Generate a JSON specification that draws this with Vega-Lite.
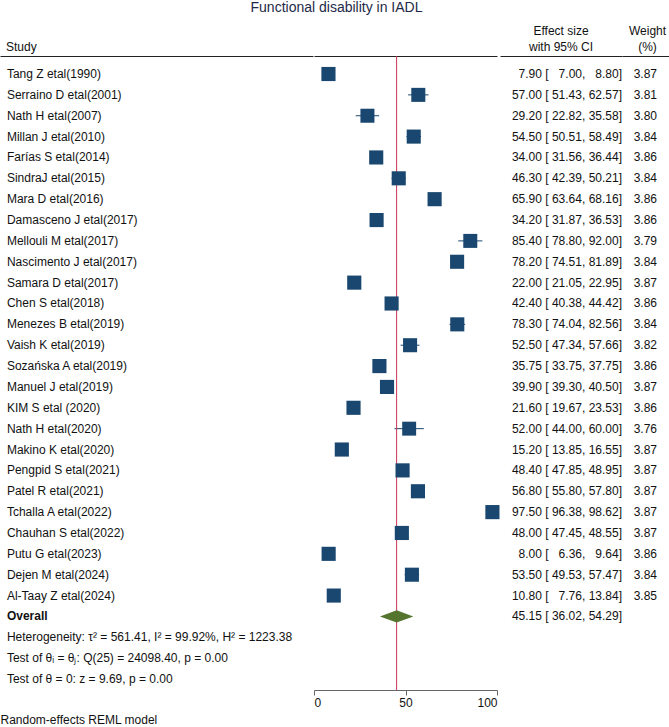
{
  "$schema": "https://vega.github.io/schema/vega-lite/v6.json",
  "padding": {"left": 0, "right": 0, "top": 1, "bottom": 0},
  "title": {"text": "Functional disability in IADL", "fontSize": 14, "fontWeight": "normal", "color": "#1e2a48", "anchor": "middle", "offset": 10, "font": "Liberation Sans"},
  "data": {"values": [
    {"label": "Tang Z etal(1990)", "order": 1, "type": "study", "es": 7.90, "lo": 7.00, "hi": 8.80, "w": 3.87, "wt": "3.87", "ci": "7.90 [\u00a0\u00a0 7.00,\u00a0\u00a0 8.80]"},
    {"label": "Serraino D etal(2001)", "order": 2, "type": "study", "es": 57.00, "lo": 51.43, "hi": 62.57, "w": 3.81, "wt": "3.81", "ci": "57.00 [ 51.43, 62.57]"},
    {"label": "Nath H etal(2007)", "order": 3, "type": "study", "es": 29.20, "lo": 22.82, "hi": 35.58, "w": 3.80, "wt": "3.80", "ci": "29.20 [ 22.82, 35.58]"},
    {"label": "Millan J etal(2010)", "order": 4, "type": "study", "es": 54.50, "lo": 50.51, "hi": 58.49, "w": 3.84, "wt": "3.84", "ci": "54.50 [ 50.51, 58.49]"},
    {"label": "Farías S etal(2014)", "order": 5, "type": "study", "es": 34.00, "lo": 31.56, "hi": 36.44, "w": 3.86, "wt": "3.86", "ci": "34.00 [ 31.56, 36.44]"},
    {"label": "SindraJ etal(2015)", "order": 6, "type": "study", "es": 46.30, "lo": 42.39, "hi": 50.21, "w": 3.84, "wt": "3.84", "ci": "46.30 [ 42.39, 50.21]"},
    {"label": "Mara D etal(2016)", "order": 7, "type": "study", "es": 65.90, "lo": 63.64, "hi": 68.16, "w": 3.86, "wt": "3.86", "ci": "65.90 [ 63.64, 68.16]"},
    {"label": "Damasceno J etal(2017)", "order": 8, "type": "study", "es": 34.20, "lo": 31.87, "hi": 36.53, "w": 3.86, "wt": "3.86", "ci": "34.20 [ 31.87, 36.53]"},
    {"label": "Mellouli M etal(2017)", "order": 9, "type": "study", "es": 85.40, "lo": 78.80, "hi": 92.00, "w": 3.79, "wt": "3.79", "ci": "85.40 [ 78.80, 92.00]"},
    {"label": "Nascimento J etal(2017)", "order": 10, "type": "study", "es": 78.20, "lo": 74.51, "hi": 81.89, "w": 3.84, "wt": "3.84", "ci": "78.20 [ 74.51, 81.89]"},
    {"label": "Samara D etal(2017)", "order": 11, "type": "study", "es": 22.00, "lo": 21.05, "hi": 22.95, "w": 3.87, "wt": "3.87", "ci": "22.00 [ 21.05, 22.95]"},
    {"label": "Chen S etal(2018)", "order": 12, "type": "study", "es": 42.40, "lo": 40.38, "hi": 44.42, "w": 3.86, "wt": "3.86", "ci": "42.40 [ 40.38, 44.42]"},
    {"label": "Menezes B etal(2019)", "order": 13, "type": "study", "es": 78.30, "lo": 74.04, "hi": 82.56, "w": 3.84, "wt": "3.84", "ci": "78.30 [ 74.04, 82.56]"},
    {"label": "Vaish K etal(2019)", "order": 14, "type": "study", "es": 52.50, "lo": 47.34, "hi": 57.66, "w": 3.82, "wt": "3.82", "ci": "52.50 [ 47.34, 57.66]"},
    {"label": "Sozańska A etal(2019)", "order": 15, "type": "study", "es": 35.75, "lo": 33.75, "hi": 37.75, "w": 3.86, "wt": "3.86", "ci": "35.75 [ 33.75, 37.75]"},
    {"label": "Manuel J etal(2019)", "order": 16, "type": "study", "es": 39.90, "lo": 39.30, "hi": 40.50, "w": 3.87, "wt": "3.87", "ci": "39.90 [ 39.30, 40.50]"},
    {"label": "KIM S etal (2020)", "order": 17, "type": "study", "es": 21.60, "lo": 19.67, "hi": 23.53, "w": 3.86, "wt": "3.86", "ci": "21.60 [ 19.67, 23.53]"},
    {"label": "Nath H etal(2020)", "order": 18, "type": "study", "es": 52.00, "lo": 44.00, "hi": 60.00, "w": 3.76, "wt": "3.76", "ci": "52.00 [ 44.00, 60.00]"},
    {"label": "Makino K etal(2020)", "order": 19, "type": "study", "es": 15.20, "lo": 13.85, "hi": 16.55, "w": 3.87, "wt": "3.87", "ci": "15.20 [ 13.85, 16.55]"},
    {"label": "Pengpid S etal(2021)", "order": 20, "type": "study", "es": 48.40, "lo": 47.85, "hi": 48.95, "w": 3.87, "wt": "3.87", "ci": "48.40 [ 47.85, 48.95]"},
    {"label": "Patel R etal(2021)", "order": 21, "type": "study", "es": 56.80, "lo": 55.80, "hi": 57.80, "w": 3.87, "wt": "3.87", "ci": "56.80 [ 55.80, 57.80]"},
    {"label": "Tchalla A etal(2022)", "order": 22, "type": "study", "es": 97.50, "lo": 96.38, "hi": 98.62, "w": 3.87, "wt": "3.87", "ci": "97.50 [ 96.38, 98.62]"},
    {"label": "Chauhan S etal(2022)", "order": 23, "type": "study", "es": 48.00, "lo": 47.45, "hi": 48.55, "w": 3.87, "wt": "3.87", "ci": "48.00 [ 47.45, 48.55]"},
    {"label": "Putu G etal(2023)", "order": 24, "type": "study", "es": 8.00, "lo": 6.36, "hi": 9.64, "w": 3.86, "wt": "3.86", "ci": "8.00 [\u00a0\u00a0 6.36,\u00a0\u00a0 9.64]"},
    {"label": "Dejen M etal(2024)", "order": 25, "type": "study", "es": 53.50, "lo": 49.53, "hi": 57.47, "w": 3.84, "wt": "3.84", "ci": "53.50 [ 49.53, 57.47]"},
    {"label": "Al-Taay Z etal(2024)", "order": 26, "type": "study", "es": 10.80, "lo": 7.76, "hi": 13.84, "w": 3.85, "wt": "3.85", "ci": "10.80 [\u00a0\u00a0 7.76, 13.84]"},
    {"label": "Overall", "order": 27, "type": "overall", "pooled": 45.15, "plo": 36.02, "phi": 54.29, "wt": "", "ci": "45.15 [ 36.02, 54.29]"},
    {"label": "Heterogeneity: τ² = 561.41, I² = 99.92%, H² = 1223.38", "order": 28, "type": "note", "wt": "", "ci": ""},
    {"label": "Test of θᵢ = θⱼ: Q(25) = 24098.40, p = 0.00", "order": 29, "type": "note", "wt": "", "ci": ""},
    {"label": "Test of θ = 0: z = 9.69, p = 0.00", "order": 30, "type": "note", "wt": "", "ci": ""}
  ]},
  "spacing": 0,
  "resolve": {"scale": {"y": "shared", "x": "independent"}},
  "hconcat": [
    {
      "width": 313,
      "height": 634,
      "title": {"text": "Study", "anchor": "start", "fontSize": 12, "fontWeight": "normal", "offset": 2, "dx": 6, "color": "#111111"},
      "layer": [
        {
          "transform": [{"filter": "datum.type !== 'overall'"}],
          "mark": {"type": "text", "align": "left", "baseline": "middle", "fontSize": 12, "color": "#111111"},
          "encoding": {
            "y": {"field": "label", "type": "nominal", "sort": {"field": "order", "op": "min"}, "axis": null, "scale": {"type": "point", "padding": 0.695, "align": 0.621}},
            "x": {"datum": 0.022, "type": "quantitative", "scale": {"domain": [0, 1]}, "axis": {"orient": "top", "labels": false, "ticks": false, "grid": false, "title": null, "domainColor": "#222222", "domainWidth": 1}},
            "text": {"field": "label"}
          }
        },
        {
          "transform": [{"filter": "datum.type === 'overall'"}],
          "mark": {"type": "text", "align": "left", "baseline": "middle", "fontSize": 12, "fontWeight": "bold", "color": "#111111"},
          "encoding": {
            "y": {"field": "label", "type": "nominal", "sort": {"field": "order", "op": "min"}, "axis": null},
            "x": {"datum": 0.022, "type": "quantitative", "axis": null},
            "text": {"field": "label"}
          }
        },
        {
          "mark": {"type": "text", "text": ""},
          "encoding": {
            "x": {"datum": 0, "type": "quantitative", "scale": {"domain": [0, 1]}, "axis": {"orient": "bottom", "labels": false, "ticks": false, "domain": false, "grid": false, "title": "Random-effects REML model", "titleAnchor": "start", "titleFontSize": 12, "titleFontWeight": "normal", "titleColor": "#111111", "titlePadding": 24}}
          }
        }
      ],
      "resolve": {"axis": {"x": "independent"}}
    },
    {
      "width": 183,
      "height": 634,
      "layer": [
        {
          "mark": {"type": "rule", "color": "#1a476f", "strokeWidth": 1},
          "encoding": {
            "y": {"field": "label", "type": "nominal", "sort": {"field": "order", "op": "min"}, "axis": null, "scale": {"type": "point", "padding": 0.695, "align": 0.621}},
            "x": {"field": "lo", "type": "quantitative", "scale": {"domain": [0, 100]}, "axis": {"orient": "bottom", "values": [0, 50, 100], "title": null, "grid": false, "tickSize": 5, "labelFontSize": 12, "labelColor": "#111111", "labelPadding": 2, "domainColor": "#666666", "tickColor": "#666666"}},
            "x2": {"field": "hi"}
          }
        },
        {
          "mark": {"type": "rule", "color": "#cc3355", "strokeWidth": 1},
          "encoding": {
            "x": {"field": "pooled", "type": "quantitative", "scale": {"domain": [0, 100]}, "axis": {"orient": "top", "labels": false, "ticks": false, "grid": false, "title": null, "domainColor": "#222222", "domainWidth": 1}}
          }
        },
        {
          "mark": {"type": "point", "shape": "square", "filled": true, "opacity": 1, "color": "#1a476f"},
          "encoding": {
            "y": {"field": "label", "type": "nominal", "sort": {"field": "order", "op": "min"}, "axis": null},
            "x": {"field": "es", "type": "quantitative", "axis": null},
            "size": {"field": "w", "type": "quantitative", "scale": {"domain": [0, 3.87], "range": [0, 200]}, "legend": null}
          }
        },
        {
          "mark": {"type": "point", "shape": "M-1,0L0,-0.37L1,0L0,0.37Z", "filled": true, "opacity": 1, "color": "#55752f", "size": 1110},
          "encoding": {
            "y": {"field": "label", "type": "nominal", "sort": {"field": "order", "op": "min"}, "axis": null},
            "x": {"field": "pooled", "type": "quantitative", "axis": null}
          }
        }
      ],
      "resolve": {"axis": {"x": "independent"}}
    },
    {
      "width": 122,
      "height": 634,
      "title": {"text": ["Effect size", "with 95% CI"], "anchor": "middle", "fontSize": 12, "fontWeight": "normal", "offset": 2, "lineHeight": 16, "color": "#111111"},
      "mark": {"type": "text", "align": "right", "baseline": "middle", "fontSize": 12, "color": "#111111"},
      "encoding": {
        "y": {"field": "label", "type": "nominal", "sort": {"field": "order", "op": "min"}, "axis": null, "scale": {"type": "point", "padding": 0.695, "align": 0.621}},
        "x": {"datum": 1, "type": "quantitative", "scale": {"domain": [0, 1]}, "axis": {"orient": "top", "labels": false, "ticks": false, "grid": false, "title": null, "domainColor": "#222222", "domainWidth": 1}},
        "text": {"field": "ci"}
      }
    },
    {
      "width": 51,
      "height": 634,
      "title": {"text": ["Weight", "(%)"], "anchor": "middle", "fontSize": 12, "fontWeight": "normal", "offset": 2, "lineHeight": 16, "color": "#111111"},
      "mark": {"type": "text", "align": "right", "baseline": "middle", "fontSize": 12, "color": "#111111"},
      "encoding": {
        "y": {"field": "label", "type": "nominal", "sort": {"field": "order", "op": "min"}, "axis": null, "scale": {"type": "point", "padding": 0.695, "align": 0.621}},
        "x": {"datum": 0.686, "type": "quantitative", "scale": {"domain": [0, 1]}, "axis": {"orient": "top", "labels": false, "ticks": false, "grid": false, "title": null, "domainColor": "#222222", "domainWidth": 1}},
        "text": {"field": "wt"}
      }
    }
  ],
  "config": {
    "font": "Liberation Sans",
    "view": {"stroke": null},
    "axis": {"labelFont": "Liberation Sans", "titleFont": "Liberation Sans"},
    "title": {"font": "Liberation Sans"}
  }
}
